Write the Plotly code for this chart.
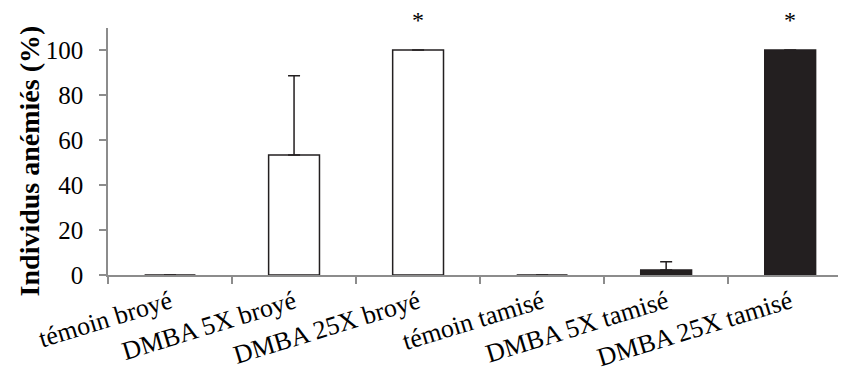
import plotly.graph_objects as go

categories = ["témoin broyé", "DMBA 5X broyé", "DMBA 25X broyé",
              "témoin tamisé", "DMBA 5X tamisé", "DMBA 25X tamisé"]
values = [0, 53.3, 100, 0, 2.2, 100]
errors = [0, 35.3, 0, 0, 3.7, 0]
fills = ["white", "white", "white", "white", "#231f20", "#231f20"]
significant = [False, False, True, False, False, True]

DARK = "#231f20"
AXIS = "#8c8c8c"
FONT = "Liberation Serif, Times New Roman, serif"

fig = go.Figure()
fig.add_trace(go.Bar(
    x=categories, y=values,
    width=0.41,
    marker=dict(color=fills, line=dict(color=DARK, width=1.5)),
    error_y=dict(type="data", array=errors, symmetric=False,
                 arrayminus=[0]*len(errors), color=DARK, thickness=1.5, width=6),
))

for c, v, e, s in zip(categories, values, errors, significant):
    if s:
        fig.add_annotation(x=c, y=v + e, yshift=30, text="*", showarrow=False,
                           font=dict(family=FONT, size=24, color="black"))

fig.add_annotation(xref="paper", yref="paper", x=-0.107, y=0.46,
                   text="<b>Individus anémiés (%)</b>", textangle=-90,
                   showarrow=False, xanchor="center", yanchor="middle",
                   font=dict(family=FONT, size=28, color="black"))

fig.update_layout(
    width=846, height=385,
    margin=dict(l=100, r=8, t=20, b=118),
    paper_bgcolor="white", plot_bgcolor="white",
    showlegend=False,
    font=dict(family=FONT, color="black"),
)
fig.update_xaxes(
    range=[-0.5, 5.45], showline=True, linecolor=AXIS, linewidth=1.5,
    ticks="outside", tickson="boundaries", ticklen=7, tickcolor=AXIS, tickwidth=1.5,
    tickangle=-17, tickfont=dict(family=FONT, size=26, color="black"),
    showgrid=False, zeroline=False, automargin=False,
)
fig.update_yaxes(
    range=[0, 109.8], tickvals=[0, 20, 40, 60, 80, 100],
    showline=True, linecolor=AXIS, linewidth=1.5,
    ticks="outside", ticklen=7, tickcolor=AXIS, tickwidth=1.5,
    tickfont=dict(family=FONT, size=25, color="black"),
    ticklabelstandoff=11,
    showgrid=False, zeroline=False, automargin=False,
)

fig.write_html("out.html")
